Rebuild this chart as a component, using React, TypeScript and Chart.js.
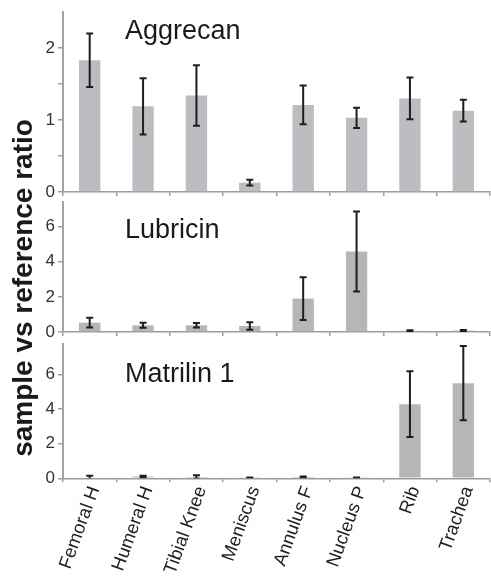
import React, { useEffect, useRef } from 'react';
import { Chart, registerables } from 'chart.js';

Chart.register(...registerables);

const categories = ['Femoral H', 'Humeral H', 'Tibial Knee', 'Meniscus', 'Annulus F', 'Nucleus P', 'Rib', 'Trachea'];

const aggrecanValues = [1.83, 1.19, 1.34, 0.13, 1.21, 1.03, 1.30, 1.13];
const aggrecanErrors = [0.37, 0.39, 0.42, 0.04, 0.27, 0.14, 0.29, 0.15];

const lubricinValues = [0.53, 0.38, 0.38, 0.34, 1.90, 4.58, 0.07, 0.08];
const lubricinErrors = [0.28, 0.14, 0.13, 0.21, 1.22, 2.28, 0.03, 0.03];

const matrilinValues = [0.05, 0.10, 0.07, 0.03, 0.07, 0.03, 4.28, 5.49];
const matrilinErrors = [0.10, 0.04, 0.10, 0.02, 0.03, 0.02, 1.90, 2.14];

const panelTitles = ['Aggrecan', 'Lubricin', 'Matrilin 1'];

const aggrecanTicks = [0, 0.5, 1, 1.5, 2];
const lubricinTicks = [0, 2, 4, 6];
const matrilinTicks = [0, 2, 4, 6];

const aggrecanMax = 2.5;
const lubricinMax = 7.4;
const matrilinMax = 7.75;

const yAxisTitle = 'sample vs reference ratio';

const FONT = '"Liberation Sans", Arial, Helvetica, sans-serif';
const AXIS_COLOR = '#9c9c9c';

const errorBarPlugin = {
  id: 'errorBars',
  afterDatasetsDraw(chart: any, _args: any, opts: any) {
    const errs: number[] = opts && opts.errors;
    if (!errs) return;
    const meta = chart.getDatasetMeta(0);
    const yScale = chart.scales.y;
    const data = chart.data.datasets[0].data as number[];
    const ctx = chart.ctx;
    const area = chart.chartArea;
    ctx.save();
    ctx.beginPath();
    ctx.rect(area.left, area.top - 2, area.right - area.left, area.bottom - area.top + 2);
    ctx.clip();
    ctx.strokeStyle = '#1e1e1e';
    ctx.lineWidth = 2;
    const cap = 3.5;
    meta.data.forEach((bar: any, i: number) => {
      const v = data[i];
      const e = errs[i];
      const yt = yScale.getPixelForValue(v + e);
      const yb = yScale.getPixelForValue(v - e);
      const x = bar.x;
      ctx.beginPath();
      ctx.moveTo(x, yt);
      ctx.lineTo(x, yb);
      ctx.moveTo(x - cap, yt);
      ctx.lineTo(x + cap, yt);
      ctx.moveTo(x - cap, yb);
      ctx.lineTo(x + cap, yb);
      ctx.stroke();
    });
    ctx.restore();
  },
};

const panelTitlePlugin = {
  id: 'panelTitle',
  afterDraw(chart: any, _args: any, opts: any) {
    if (!opts || !opts.text) return;
    const ctx = chart.ctx;
    ctx.save();
    ctx.font = `27px ${FONT}`;
    ctx.fillStyle = '#1a1a1a';
    ctx.textAlign = 'left';
    ctx.textBaseline = 'alphabetic';
    ctx.fillText(opts.text, opts.x, opts.y);
    ctx.restore();
  },
};

type PanelSpec = {
  height: number;
  padTop: number;
  xHeight: number;
  values: number[];
  errors: number[];
  max: number;
  tickValues: number[];
  title: string;
  titleY: number;
  showLabels: boolean;
  color: string;
};

function makeChart(canvas: HTMLCanvasElement, p: PanelSpec) {
  return new Chart(canvas, {
    type: 'bar',
    data: {
      labels: categories,
      datasets: [
        {
          data: p.values,
          backgroundColor: p.color,
          borderWidth: 0,
          categoryPercentage: 1,
          barPercentage: 0.4,
        },
      ],
    },
    plugins: [errorBarPlugin, panelTitlePlugin],
    options: {
      animation: false,
      responsive: false,
      devicePixelRatio: 1,
      layout: { padding: { top: p.padTop, right: 1, left: 0, bottom: 0 } },
      plugins: {
        legend: { display: false },
        tooltip: { enabled: false },
        errorBars: { errors: p.errors },
        panelTitle: { text: p.title, x: 125, y: p.titleY },
      } as any,
      scales: {
        x: {
          offset: true,
          grid: {
            display: true,
            drawOnChartArea: false,
            offset: true,
            tickLength: 4,
            color: AXIS_COLOR,
            lineWidth: 1.5,
          },
          border: { display: true, color: AXIS_COLOR, width: 1.5 },
          ticks: {
            display: p.showLabels,
            autoSkip: false,
            minRotation: 70,
            maxRotation: 70,
            padding: 1,
            labelOffset: 5,
            color: '#1e1e1e',
            font: { size: 18.5, family: FONT },
          },
          afterFit: (s: any) => {
            s.height = p.xHeight;
            s.paddingLeft = 0;
            s.paddingRight = 0;
          },
        },
        y: {
          min: 0,
          max: p.max,
          grid: {
            display: true,
            drawOnChartArea: false,
            tickLength: 5,
            color: AXIS_COLOR,
            lineWidth: 1.5,
          },
          border: { display: true, color: '#a3a3a3', width: 2 },
          afterBuildTicks: (s: any) => {
            s.ticks = p.tickValues.map((v) => ({ value: v }));
          },
          ticks: {
            padding: 3,
            color: '#333333',
            font: { size: 17, family: FONT },
            callback: (v: any) => (Number.isInteger(Number(v)) ? String(v) : ''),
          },
          afterFit: (s: any) => {
            s.width = 63;
            s.paddingTop = 0;
            s.paddingBottom = 0;
          },
        },
      },
    } as any,
  });
}

const panels: PanelSpec[] = [
  {
    height: 200, padTop: 12, xHeight: 8,
    values: aggrecanValues, errors: aggrecanErrors, max: aggrecanMax, tickValues: aggrecanTicks,
    title: panelTitles[0], titleY: 39, showLabels: false, color: '#bcbdc0',
  },
  {
    height: 140, padTop: 2, xHeight: 8,
    values: lubricinValues, errors: lubricinErrors, max: lubricinMax, tickValues: lubricinTicks,
    title: panelTitles[1], titleY: 38, showLabels: false, color: '#b6b6b8',
  },
  {
    height: 236, padTop: 4, xHeight: 97.7,
    values: matrilinValues, errors: matrilinErrors, max: matrilinMax, tickValues: matrilinTicks,
    title: panelTitles[2], titleY: 42, showLabels: true, color: '#b6b6b8',
  },
];

export default function App() {
  const r0 = useRef<HTMLCanvasElement>(null);
  const r1 = useRef<HTMLCanvasElement>(null);
  const r2 = useRef<HTMLCanvasElement>(null);

  useEffect(() => {
    const refs = [r0, r1, r2];
    const charts = refs.map((r, i) => makeChart(r.current as HTMLCanvasElement, panels[i]));
    return () => charts.forEach((c) => c.destroy());
  }, []);

  const tops = [0, 200, 340];

  return (
    <div style={{ position: 'absolute', left: 0, top: 0, width: 491, height: 576, background: '#fff', overflow: 'hidden' }}>
      {[r0, r1, r2].map((r, i) => (
        <canvas
          key={i}
          ref={r}
          width={491}
          height={panels[i].height}
          style={{ position: 'absolute', left: 0, top: tops[i], width: 491, height: panels[i].height, display: 'block' }}
        />
      ))}
      <div
        style={{
          position: 'absolute',
          left: -177,
          top: 270.5,
          width: 400,
          height: 34,
          lineHeight: '34px',
          textAlign: 'center',
          fontFamily: FONT,
          fontWeight: 'bold',
          fontSize: 28,
          color: '#1a1a1a',
          whiteSpace: 'nowrap',
          transform: 'rotate(-90deg)',
          transformOrigin: '50% 50%',
        }}
      >
        {yAxisTitle}
      </div>
    </div>
  );
}
